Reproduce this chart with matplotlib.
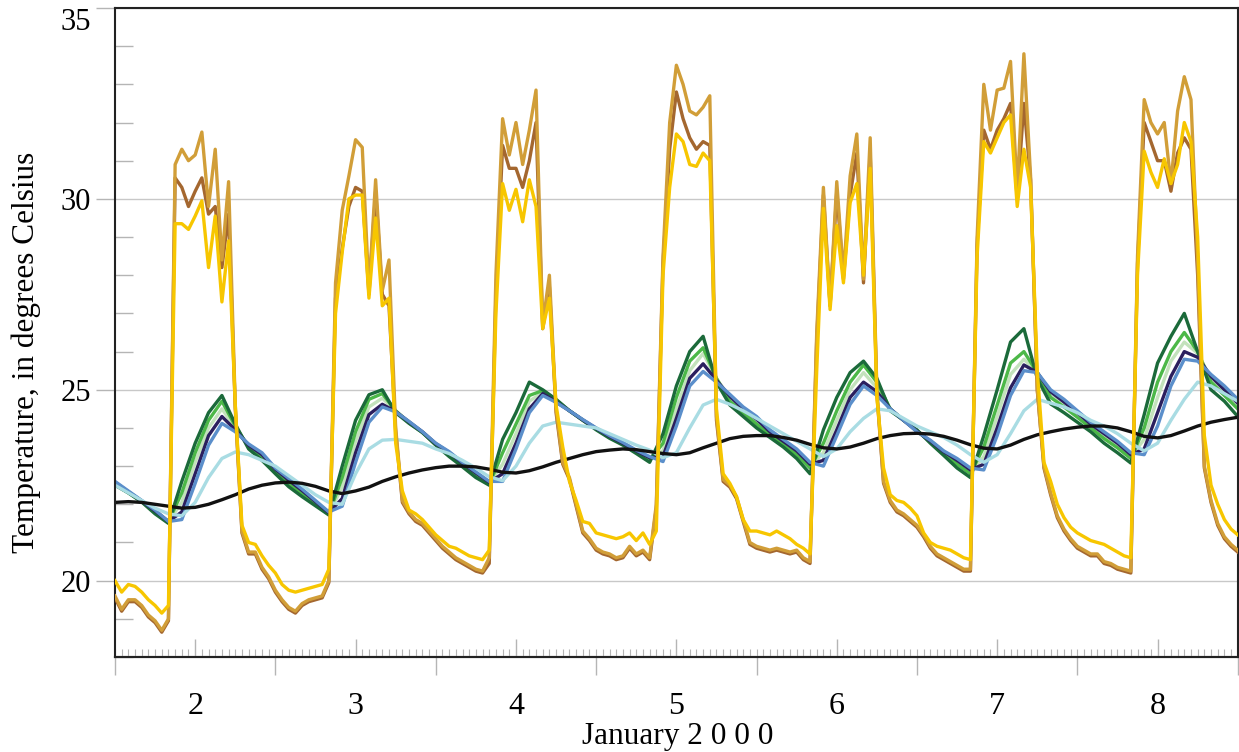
import numpy as np
import matplotlib
matplotlib.use("Agg")
import matplotlib.pyplot as plt
from matplotlib.ticker import MultipleLocator

plt.rcParams['font.family'] = 'Liberation Serif'

# hourly surface temperatures, hour 0 = Jan 2 00:00
hours = np.arange(169)
tan_surface = [
    19.6, 19.25, 19.5, 19.5, 19.35, 19.1, 18.95, 18.7, 19.0, 30.9, 31.3, 31.0, 31.15, 31.75, 29.8, 31.3, 28.4, 30.45, 24.6, 21.3, 20.75, 20.75, 20.35, 20.1,
    19.75, 19.5, 19.3, 19.2, 19.4, 19.5, 19.55, 19.6, 20.0, 27.8, 29.7, 30.6, 31.55, 31.35, 27.6, 30.5, 27.6, 28.4, 24.0, 22.1, 21.8, 21.6, 21.5, 21.3,
    21.1, 20.9, 20.75, 20.6, 20.5, 20.4, 20.3, 20.25, 20.6, 28.0, 32.1, 31.15, 32.0, 30.9, 31.8, 32.85, 26.7, 28.0, 24.5, 23.1, 22.7, 22.0, 21.3, 21.1,
    20.85, 20.75, 20.7, 20.6, 20.65, 20.9, 20.7, 20.8, 20.6, 22.0, 28.5, 32.0, 33.5, 33.0, 32.3, 32.2, 32.4, 32.7, 24.3, 22.65, 22.5, 22.2, 21.6, 21.0,
    20.9, 20.85, 20.8, 20.85, 20.8, 20.75, 20.8, 20.6, 20.5, 26.5, 30.3, 27.2, 30.45, 28.0, 30.6, 31.7, 27.9, 31.6, 25.0, 22.6, 22.1, 21.85, 21.75, 21.6,
    21.45, 21.2, 20.9, 20.7, 20.6, 20.5, 20.4, 20.3, 20.3, 29.0, 33.0, 31.8, 32.85, 32.9, 33.6, 30.2, 33.8, 30.6, 25.0, 23.0, 22.3, 21.7, 21.35, 21.1,
    20.9, 20.8, 20.7, 20.7, 20.5, 20.45, 20.35, 20.3, 20.25, 28.5, 32.6, 32.0, 31.7, 32.0, 30.4, 32.3, 33.2, 32.6, 28.4, 23.0, 22.1, 21.5, 21.15, 20.95,
    20.8]
brown_surface = [
    19.55, 19.2, 19.45, 19.45, 19.3, 19.05, 18.9, 18.65, 18.95, 30.55, 30.3, 29.8, 30.2, 30.55, 29.6, 29.8, 28.2, 29.6, 24.5, 21.25, 20.7, 20.7, 20.3, 20.05,
    19.7, 19.45, 19.25, 19.15, 19.35, 19.45, 19.5, 19.55, 19.95, 27.4, 28.7, 29.8, 30.3, 30.2, 27.5, 30.2, 27.5, 27.2, 23.9, 22.05, 21.75, 21.55, 21.45, 21.25,
    21.05, 20.85, 20.7, 20.55, 20.45, 20.35, 20.25, 20.2, 20.45, 27.5, 31.4, 30.8, 30.8, 30.3, 31.0, 32.0, 26.6, 27.7, 24.4, 23.05, 22.65, 21.95, 21.25, 21.05,
    20.8, 20.7, 20.65, 20.55, 20.6, 20.85, 20.65, 20.75, 20.55, 21.9, 28.3, 31.3, 32.8, 32.1, 31.6, 31.3, 31.5, 31.4, 24.2, 22.6, 22.45, 22.15, 21.55, 20.95,
    20.85, 20.8, 20.75, 20.8, 20.75, 20.7, 20.75, 20.55, 20.45, 26.3, 30.1, 27.2, 30.2, 27.9, 30.1, 31.2, 27.8, 31.2, 24.9, 22.55, 22.05, 21.8, 21.7, 21.55,
    21.4, 21.15, 20.85, 20.65, 20.55, 20.45, 20.35, 20.25, 20.25, 28.8, 31.8, 31.3, 31.8, 32.1, 32.5, 30.0, 32.5, 30.5, 25.0, 22.95, 22.25, 21.65, 21.3, 21.05,
    20.85, 20.75, 20.65, 20.65, 20.45, 20.4, 20.3, 20.25, 20.2, 28.3, 32.0, 31.5, 31.0, 31.0, 30.2, 31.2, 31.6, 31.3, 28.0, 22.95, 22.05, 21.45, 21.1, 20.9,
    20.75]
yellow_surface = [
    20.0, 19.7, 19.9, 19.85, 19.7, 19.5, 19.35, 19.15, 19.35, 29.35, 29.35, 29.2, 29.55, 29.95, 28.2, 29.55, 27.3, 28.9, 24.6, 21.45, 21.0, 20.95, 20.65, 20.4,
    20.2, 19.9, 19.75, 19.7, 19.75, 19.8, 19.85, 19.9, 20.3, 27.0, 28.6, 30.0, 30.1, 30.1, 27.4, 29.5, 27.2, 27.4, 23.6, 22.35, 21.85, 21.75, 21.6, 21.4,
    21.2, 21.05, 20.9, 20.85, 20.75, 20.65, 20.6, 20.55, 20.8, 27.0, 30.4, 29.7, 30.25, 29.4, 30.5, 29.8, 26.6, 27.4, 24.6, 23.5, 22.6, 22.1, 21.55, 21.5,
    21.25, 21.2, 21.15, 21.1, 21.15, 21.25, 21.05, 21.25, 20.95, 21.3, 28.0, 30.3, 31.7, 31.5, 30.9, 30.85, 31.2, 31.0, 24.5, 22.8, 22.55, 22.2, 21.6, 21.3,
    21.3, 21.25, 21.2, 21.3, 21.2, 21.1, 20.95, 20.85, 20.7, 25.5, 29.75, 27.1, 29.3, 27.8, 29.9, 30.4, 28.0, 30.8, 24.8, 22.95, 22.25, 22.1, 22.05, 21.9,
    21.7, 21.25, 21.0, 20.9, 20.85, 20.8, 20.7, 20.6, 20.55, 28.5, 31.5, 31.2, 31.6, 32.0, 32.2, 29.8, 31.3, 30.3, 25.5, 23.1, 22.6, 22.0, 21.65, 21.4,
    21.25, 21.15, 21.05, 21.0, 20.95, 20.85, 20.75, 20.65, 20.6, 28.0, 31.25, 30.7, 30.3, 31.05, 30.4, 30.9, 32.0, 31.5, 29.0, 23.8, 22.5, 22.0, 21.6, 21.35,
    21.2]

# subsurface temperatures, every 2 hours
hours2 = np.arange(0, 169, 2)
dark_green = [
    22.5, 22.3, 22.06, 21.75, 21.5, 22.6, 23.6, 24.4, 24.85, 24.1,
    23.45, 23.15, 22.8, 22.46, 22.2, 21.96, 21.72, 23.0, 24.2, 24.87,
    25.0, 24.4, 24.12, 23.88, 23.55, 23.25, 22.98, 22.7, 22.5, 23.7,
    24.4, 25.2, 25.0, 24.75, 24.45, 24.2, 23.95, 23.73, 23.55, 23.33,
    23.1, 23.85, 25.1, 26.0, 26.4, 25.2, 24.6, 24.3, 24.0, 23.75,
    23.5, 23.2, 22.8, 23.95, 24.8, 25.45, 25.75, 25.3, 24.45, 24.2,
    23.95, 23.6, 23.28, 22.95, 22.7, 23.8, 25.0, 26.25, 26.6, 25.3,
    24.63, 24.4, 24.15, 23.9, 23.6, 23.35, 23.08, 24.35, 25.7, 26.4,
    27.0, 26.0, 25.0, 24.7, 24.3]
green = [
    22.52, 22.3, 22.07, 21.78, 21.55, 22.3, 23.35, 24.2, 24.7, 24.05,
    23.5, 23.22, 22.85, 22.55, 22.27, 22.0, 21.74, 22.7, 23.9, 24.75,
    24.9, 24.45, 24.13, 23.88, 23.56, 23.3, 23.02, 22.75, 22.52, 23.35,
    24.1, 24.85, 24.98, 24.73, 24.45, 24.2, 23.97, 23.75, 23.58, 23.36,
    23.15, 23.6, 24.8, 25.75, 26.1, 25.3, 24.7, 24.4, 24.1, 23.82,
    23.57, 23.3, 22.95, 23.6, 24.45, 25.2, 25.65, 25.2, 24.5, 24.2,
    23.93, 23.63, 23.32, 23.05, 22.8, 23.5, 24.6, 25.7, 26.0, 25.45,
    24.8, 24.55, 24.28, 24.0, 23.72, 23.48, 23.2, 24.0, 25.2, 26.0,
    26.5, 26.0, 25.2, 24.85, 24.5]
light_green = [
    22.55, 22.32, 22.08, 21.8, 21.55, 22.05, 23.1, 24.0, 24.5, 24.0,
    23.53, 23.27, 22.88, 22.6, 22.32, 22.04, 21.76, 22.45, 23.65, 24.55,
    24.78, 24.45, 24.15, 23.89, 23.58, 23.33, 23.05, 22.79, 22.55, 23.05,
    23.85, 24.7, 24.93, 24.7, 24.45, 24.21, 23.98, 23.77, 23.6, 23.39,
    23.2, 23.4, 24.5, 25.5, 25.95, 25.3, 24.78, 24.47, 24.18, 23.87,
    23.62, 23.35, 23.0, 23.35, 24.2, 25.0, 25.45, 25.05, 24.5, 24.2,
    23.92, 23.65, 23.36, 23.1, 22.85, 23.25, 24.3, 25.4, 25.8, 25.45,
    24.88, 24.62, 24.35, 24.05, 23.78, 23.53, 23.25, 23.7, 24.8, 25.75,
    26.25, 25.95, 25.3, 24.95, 24.6]
navy = [
    22.58, 22.33, 22.09, 21.83, 21.55, 21.8, 22.8, 23.8, 24.3, 23.95,
    23.55, 23.3, 22.92, 22.63, 22.36, 22.07, 21.78, 22.15, 23.35, 24.35,
    24.62, 24.43, 24.16, 23.9, 23.59, 23.36, 23.08, 22.82, 22.58, 22.8,
    23.6, 24.5, 24.9, 24.68, 24.45, 24.21, 23.99, 23.78, 23.6, 23.4,
    23.22, 23.25, 24.25, 25.3, 25.68, 25.25, 24.83, 24.5, 24.23, 23.9,
    23.65, 23.4, 23.05, 23.15, 23.95, 24.8, 25.2, 24.95, 24.5, 24.2,
    23.91, 23.66, 23.38, 23.15, 22.9, 23.05, 24.0, 25.05, 25.65, 25.45,
    24.95, 24.68, 24.4, 24.1, 23.85, 23.6, 23.3, 23.45, 24.4, 25.35,
    26.0, 25.85, 25.35, 25.0, 24.65]
blue = [
    22.6, 22.35, 22.1, 21.85, 21.55, 21.6, 22.55, 23.55, 24.12, 23.9,
    23.58, 23.35, 22.95, 22.68, 22.4, 22.1, 21.8, 21.95, 23.1, 24.15,
    24.55, 24.42, 24.17, 23.9, 23.6, 23.38, 23.1, 22.85, 22.6, 22.6,
    23.45, 24.4, 24.85, 24.67, 24.45, 24.22, 24.0, 23.8, 23.62, 23.42,
    23.25, 23.12, 24.05, 25.1, 25.48, 25.2, 24.88, 24.55, 24.3, 23.95,
    23.7, 23.45, 23.1, 23.0, 23.8, 24.62, 25.1, 24.85, 24.5, 24.2,
    23.9, 23.68, 23.4, 23.2, 22.95, 22.9, 23.8, 24.85, 25.5, 25.45,
    25.0, 24.75, 24.45, 24.15, 23.9, 23.65, 23.35, 23.3, 24.05, 25.1,
    25.8, 25.75, 25.4, 25.1, 24.75]
light_blue = [
    22.5, 22.3, 22.1, 21.9, 21.75, 21.7, 22.05, 22.7, 23.2, 23.37,
    23.3, 23.15, 23.0, 22.75, 22.5, 22.25, 22.05, 22.0, 22.8, 23.45,
    23.68, 23.7, 23.65, 23.6, 23.45, 23.33, 23.15, 22.95, 22.72, 22.62,
    23.0, 23.6, 24.05, 24.15, 24.1, 24.05, 24.0, 23.85, 23.7, 23.55,
    23.42, 23.22, 23.35, 24.0, 24.6, 24.75, 24.62, 24.45, 24.25, 24.05,
    23.85, 23.65, 23.45, 23.25, 23.45, 23.9, 24.25, 24.5, 24.45, 24.25,
    24.05, 23.9, 23.75, 23.55, 23.3, 23.1, 23.3, 23.85, 24.45, 24.75,
    24.65, 24.55, 24.4, 24.2, 24.05, 23.85, 23.6, 23.4, 23.6, 24.2,
    24.75, 25.2, 25.1, 24.9, 24.7]
black = [
    22.05, 22.07, 22.05, 22.0, 21.95, 21.9, 21.92, 22.0, 22.12, 22.25,
    22.4, 22.5, 22.56, 22.58, 22.55, 22.47, 22.35, 22.28, 22.35, 22.45,
    22.6, 22.72, 22.82, 22.9, 22.96, 23.0, 23.0, 22.98, 22.92, 22.84,
    22.82, 22.88, 22.98, 23.1, 23.2, 23.3, 23.38, 23.42, 23.45, 23.43,
    23.38, 23.33, 23.3, 23.35, 23.48, 23.6, 23.72, 23.78, 23.8, 23.8,
    23.75, 23.68, 23.57, 23.48, 23.45, 23.5, 23.6, 23.72, 23.8, 23.85,
    23.86, 23.84, 23.78, 23.68, 23.56, 23.47, 23.45, 23.55, 23.7, 23.82,
    23.9, 23.97, 24.02, 24.05, 24.05, 24.0, 23.9, 23.78, 23.74, 23.8,
    23.92, 24.05, 24.15, 24.22, 24.28]

day_labels = ['2', '3', '4', '5', '6', '7', '8']
temp_ticks = [20, 25, 30, 35]

fig = plt.figure(figsize=(12.39, 7.52), dpi=100)
ax = fig.add_axes([0.0928, 0.1263, 0.9062, 0.8631])

lw = 2.4
ax.plot(hours2, light_green, color='#c3e2bc', lw=lw, zorder=2)
ax.plot(hours2, green, color='#4cb848', lw=lw, zorder=2)
ax.plot(hours2, dark_green, color='#1b6a3a', lw=lw, zorder=2)
ax.plot(hours2, navy, color='#2b1f5e', lw=lw, zorder=2)
ax.plot(hours2, blue, color='#5b8fcb', lw=lw, zorder=2)
ax.plot(hours2, light_blue, color='#a9dce3', lw=lw, zorder=2)
ax.plot(hours2, black, color='#111111', lw=lw, zorder=2)
ax.plot(hours, brown_surface, color='#a4672f', lw=lw, zorder=3)
ax.plot(hours, tan_surface, color='#d19e38', lw=lw, zorder=3)
ax.plot(hours, yellow_surface, color='#f7c600', lw=lw, zorder=3)

ax.set_xlim(0, 168)
ax.set_ylim(18, 35)

grey = '#b5b5b5'
ax.set_yticks(temp_ticks)
ax.set_yticklabels([str(t) for t in temp_ticks])
ax.get_yticklabels()[-1].set_va('top')   # top label sits below the tick, as in the original
ax.yaxis.set_minor_locator(MultipleLocator(1))
ax.yaxis.grid(True, which='major', color='#c8c8c8', lw=1)
ax.set_axisbelow(True)
ax.tick_params(axis='y', which='major', direction='out', length=14, width=1,
               color=grey, labelsize=22, pad=3)
ax.tick_params(axis='y', which='minor', direction='in', length=13, width=1, color=grey)

ax.set_xticks(np.arange(12, 168, 24))
ax.set_xticklabels(day_labels)
ax.xaxis.set_minor_locator(MultipleLocator(1))
ax.tick_params(axis='x', which='major', direction='in', length=13, width=1,
               color=grey, labelsize=23, pad=25)
ax.tick_params(axis='x', which='minor', direction='in', length=6, width=0.8, color=grey)

sec = ax.secondary_xaxis('bottom')
sec.set_xticks(np.arange(0, 169, 24))
sec.tick_params(direction='out', length=13, width=1, color=grey, labelbottom=False)
sec.spines['bottom'].set_linewidth(1.5)

for s in ax.spines.values():
    s.set_linewidth(1.5)
    s.set_color('#222222')

ax.set_ylabel('Temperature, in degrees Celsius', fontsize=22.5)
ax.yaxis.set_label_coords(-0.066, 0.47)
ax.set_xlabel('January 2 0 0 0', fontsize=22.5)
ax.xaxis.set_label_coords(0.501, -0.1)

fig.savefig('out.png', dpi=100)
